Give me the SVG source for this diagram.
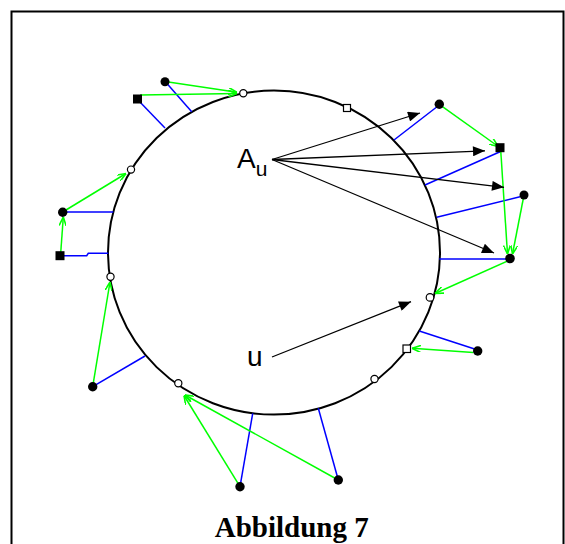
<svg xmlns="http://www.w3.org/2000/svg" width="565" height="544" viewBox="0 0 565 544">
<defs>
<style>
.frame{fill:none;stroke:#000;stroke-width:2}
.circ{fill:none;stroke:#000;stroke-width:2}
.blue{fill:none;stroke:#0000ff;stroke-width:1.5}
.green{fill:none;stroke:#00ff00;stroke-width:1.5}
.blk{fill:none;stroke:#000;stroke-width:1.3}
.dot{fill:#000}
.open{fill:#fff;stroke:#000;stroke-width:1.2}
.lbl{font-family:"Liberation Sans",Arial,sans-serif;fill:#000}
.title{font-family:"Liberation Serif","Times New Roman",serif;font-weight:bold;font-size:29px;fill:#000}
</style>
<marker id="ab" viewBox="0 0 12 10" refX="12" refY="5" markerWidth="13" markerHeight="10" markerUnits="userSpaceOnUse" orient="auto">
<path d="M0,0 L12,5 L0,10 Z" fill="#000"/>
</marker>
<marker id="ag" viewBox="0 0 10 8" refX="10" refY="4" markerWidth="9" markerHeight="7" markerUnits="userSpaceOnUse" orient="auto">
<path d="M0,0 L10,4 L0,8" fill="none" stroke="#00ff00" stroke-width="1.8"/>
</marker>
</defs>
<rect class="frame" x="11.5" y="11.5" width="552" height="540"/>
<g id="ring"><ellipse class="circ" cx="274" cy="252.6" rx="166" ry="162"/></g>
<g id="connectors">
<g id="blue-lines">
<line class="blue" x1="166.7" y1="83.3" x2="191.7" y2="111.7"/>
<line class="blue" x1="138" y1="100" x2="165" y2="128"/>
<line class="blue" x1="62.7" y1="212" x2="113.3" y2="212"/>
<polyline class="blue" points="60,255.7 86.7,255.7 88.3,253.3 108.3,253.3"/>
<line class="blue" x1="92.7" y1="386.7" x2="145" y2="356"/>
<line class="blue" x1="240" y1="486.7" x2="252.7" y2="413.3"/>
<line class="blue" x1="338.3" y1="480" x2="318.3" y2="408.3"/>
<line class="blue" x1="477.7" y1="350" x2="419.3" y2="331"/>
<line class="blue" x1="510" y1="259" x2="439.3" y2="259"/>
<line class="blue" x1="520" y1="196.7" x2="436.7" y2="217.3"/>
<line class="blue" x1="500" y1="151.7" x2="425" y2="185"/>
<line class="blue" x1="439.3" y1="105" x2="394" y2="140"/>
</g>
<g id="green-arrows">
<line class="green" marker-end="url(#ag)" x1="166.7" y1="81.7" x2="237" y2="92.3"/>
<line class="green" marker-end="url(#ag)" x1="140" y1="95" x2="237" y2="93.5"/>
<line class="green" marker-end="url(#ag)" x1="62.7" y1="212" x2="126" y2="173.5"/>
<line class="green" marker-end="url(#ag)" x1="60.7" y1="253" x2="63.3" y2="217"/>
<line class="green" marker-end="url(#ag)" x1="92.7" y1="386.7" x2="110" y2="282"/>
<line class="green" marker-end="url(#ag)" x1="240" y1="486.7" x2="184" y2="395.5"/>
<line class="green" marker-end="url(#ag)" x1="338.3" y1="480" x2="185" y2="395"/>
<line class="green" marker-end="url(#ag)" x1="473.3" y1="352.5" x2="412" y2="348.3"/>
<line class="green" marker-end="url(#ag)" x1="510" y1="260" x2="435" y2="293.5"/>
<line class="green" marker-end="url(#ag)" x1="524" y1="195" x2="512.5" y2="254"/>
<line class="green" marker-end="url(#ag)" x1="500.7" y1="150" x2="507.5" y2="254"/>
<line class="green" marker-end="url(#ag)" x1="439.3" y1="104.3" x2="498.3" y2="146.5"/>
</g>
<g id="black-arrows">
<line class="blk" marker-end="url(#ab)" x1="272" y1="159.5" x2="420" y2="113"/>
<line class="blk" marker-end="url(#ab)" x1="272" y1="159.5" x2="485" y2="150.8"/>
<line class="blk" marker-end="url(#ab)" x1="272" y1="159.5" x2="504" y2="187.3"/>
<line class="blk" marker-end="url(#ab)" x1="272" y1="159.5" x2="494" y2="253"/>
<line class="blk" marker-end="url(#ab)" x1="272" y1="357" x2="411" y2="301.7"/>
</g>
</g>
<g id="open-nodes">
<g id="o1"><circle class="open" cx="243.3" cy="93.3" r="3.6"/></g>
<g id="o2"><rect class="open" x="343.5" y="104.5" width="7" height="7"/></g>
<g id="o3"><circle class="open" cx="131" cy="169.6" r="3.6"/></g>
<g id="o4"><circle class="open" cx="110.5" cy="276.7" r="3.6"/></g>
<g id="o5"><circle class="open" cx="178.3" cy="383.2" r="3.6"/></g>
<g id="o6"><circle class="open" cx="374.5" cy="379" r="3.6"/></g>
<g id="o7"><rect class="open" x="403" y="345" width="7.5" height="7.5"/></g>
<g id="o8"><circle class="open" cx="430" cy="297.4" r="3.8"/></g>
</g>
<g id="black-nodes">
<g id="n-a"><circle class="dot" cx="165" cy="81.7" r="4.5"/></g>
<g id="n-b"><rect class="dot" x="133" y="94.5" width="9" height="9"/></g>
<g id="n-c"><circle class="dot" cx="62.7" cy="212.3" r="4.7"/></g>
<g id="n-d"><rect class="dot" x="55.5" y="251.2" width="9" height="9"/></g>
<g id="n-e"><circle class="dot" cx="92.7" cy="386.7" r="4.7"/></g>
<g id="n-f"><circle class="dot" cx="240" cy="486.7" r="4.7"/></g>
<g id="n-g"><circle class="dot" cx="338.3" cy="480" r="4.7"/></g>
<g id="n-h"><circle class="dot" cx="477.7" cy="351" r="4.7"/></g>
<g id="n-i"><circle class="dot" cx="510" cy="258.5" r="4.8"/></g>
<g id="n-j"><circle class="dot" cx="524" cy="195" r="4.5"/></g>
<g id="n-k"><rect class="dot" x="495.5" y="143.2" width="9" height="9"/></g>
<g id="n-l"><circle class="dot" cx="439.3" cy="104.3" r="4.7"/></g>
</g>
<g id="labels">
<text class="lbl" x="237" y="167.5" font-size="28">A<tspan font-size="21" dy="8">u</tspan></text>
<text class="lbl" x="247" y="365.5" font-size="28">u</text>
<text class="title" x="291.7" y="536.5" text-anchor="middle">Abbildung 7</text>
</g>
</svg>
